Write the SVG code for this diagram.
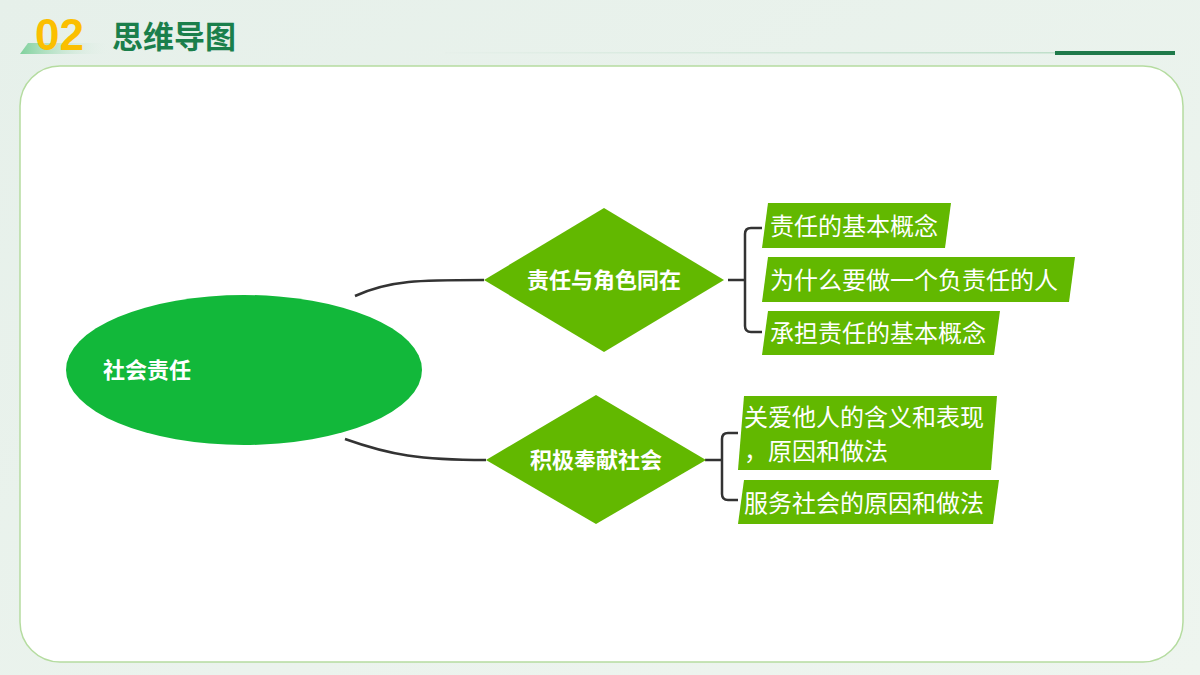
<svg xmlns="http://www.w3.org/2000/svg" width="1200" height="675" viewBox="0 0 1200 675">
<defs>
<linearGradient id="bg" x1="0" y1="0" x2="1" y2="1"><stop offset="0" stop-color="#e6f0ea"/><stop offset="1" stop-color="#eef5ef"/></linearGradient>
<linearGradient id="hl" x1="0" y1="0" x2="1" y2="0"><stop offset="0" stop-color="#7fd19c"/><stop offset="1" stop-color="#e6f0ea" stop-opacity="0"/></linearGradient>
<linearGradient id="rl" x1="0" y1="0" x2="1" y2="0"><stop offset="0" stop-color="#e6f0ea"/><stop offset="1" stop-color="#b8dcc4"/></linearGradient>
<style>
.lf{fill:#62b800}
.lt{font-family:"Noto Sans CJK SC",sans-serif;font-size:24px;fill:#fff}
.bt{font-family:"Noto Sans CJK SC",sans-serif;font-size:22px;font-weight:bold;fill:#fff}
.cn{fill:none;stroke:#333;stroke-width:2.5}
</style>
</defs>
<rect width="1200" height="675" fill="url(#bg)"/>
<polygon points="28,43 110,43 110,54 20,54" fill="url(#hl)"/>
<text x="35" y="50" font-family="Liberation Sans,sans-serif" font-size="44" font-weight="bold" fill="#fbbf00">02</text>
<text x="112" y="48" font-family="Noto Sans CJK SC,sans-serif" font-size="31" font-weight="bold" fill="#1a7f4b">思维导图</text>
<rect x="445" y="52" width="730" height="1.5" fill="url(#rl)"/>
<rect x="1055" y="51" width="120" height="4" fill="#1f7a4a"/>
<rect x="20" y="66" width="1163" height="596" rx="40" fill="#fff" stroke="#b5dca0" stroke-width="1.5"/>
<g id="connectors">
<path class="cn" d="M355,296 C390,280 420,280 484,280"/>
<path class="cn" d="M345,439 C390,455 420,460 486,460"/>
<path class="cn" d="M728,280 H745 M762,228 H751 Q745,228 745,234 V326 Q745,332 751,332 H762"/>
<path class="cn" d="M705,460 H722 M738,433 H728 Q722,433 722,439 V494 Q722,500 728,500 H738"/>
</g>
<g id="root"><ellipse cx="244" cy="370" rx="178" ry="75" fill="#12b83a"/><text x="103" y="378" class="bt">社会责任</text></g>
<g id="d1"><polygon points="604,208 724,280 604,352 484,280" class="lf"/><text x="604" y="288" class="bt" text-anchor="middle">责任与角色同在</text></g>
<g id="d2"><polygon points="596,395 706,460 596,524 486,460" class="lf"/><text x="596" y="468" class="bt" text-anchor="middle">积极奉献社会</text></g>
<g id="l1"><polygon points="768,203 951,203 945,248 762,248" class="lf"/><text x="770" y="235" class="lt">责任的基本概念</text></g>
<g id="l2"><polygon points="768,257 1075,257 1069,302 762,302" class="lf"/><text x="770" y="289" class="lt">为什么要做一个负责任的人</text></g>
<g id="l3"><polygon points="768,311 1000,311 994,355 762,355" class="lf"/><text x="770" y="342" class="lt">承担责任的基本概念</text></g>
<g id="l4"><polygon points="744,396 997,396 991,470 738,470" class="lf"/><text x="744" y="426" class="lt">关爱他人的含义和表现</text><text x="744" y="460" class="lt">，原因和做法</text></g>
<g id="l5"><polygon points="744,480 999,480 993,524 738,524" class="lf"/><text x="744" y="512" class="lt">服务社会的原因和做法</text></g>
</svg>
